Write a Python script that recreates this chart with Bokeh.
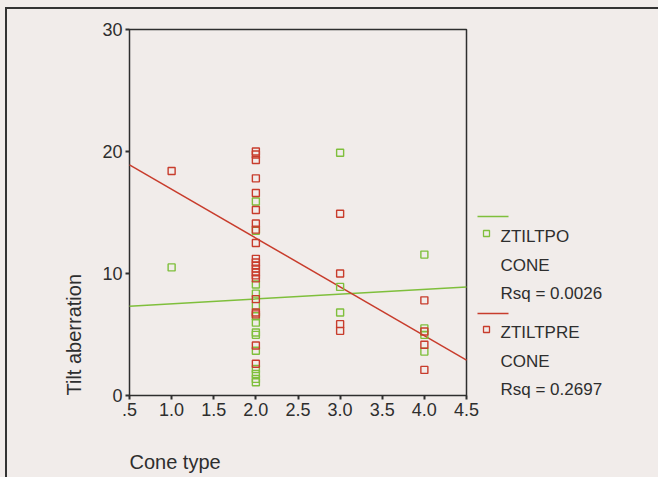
import numpy as np
from bokeh.plotting import figure
from bokeh.models import Range1d, FixedTicker, Title, Label, BoxAnnotation
from bokeh.embed import file_html
from bokeh.resources import INLINE

# ---- data ----
post_x = [1.0] + [2.0] * 14 + [3.0] * 3 + [4.0] * 4
post_y = [10.5,
          15.9, 13.5, 9.1, 8.35, 7.35, 6.5, 5.97, 5.16, 4.97, 3.67, 2.17, 1.77, 1.36, 1.08,
          19.9, 8.9, 6.8,
          11.55, 5.5, 4.97, 3.6]

pre_x = [1.0] + [2.0] * 21 + [3.0] * 4 + [4.0] * 4
pre_y = [18.4,
         20.0, 19.75, 19.3, 17.8, 16.6, 15.2, 14.1, 13.6, 12.5, 11.2, 10.9, 10.65, 10.4,
         10.1, 9.85, 9.6, 7.9, 6.8, 6.65, 4.1, 2.6,
         14.9, 10.0, 5.85, 5.3,
         7.8, 5.24, 4.16, 2.1]

# fitted lines (intercept, slope)
post_fit = (7.13, 0.39)
pre_fit = (20.9, -4.0)

legend_names = ["ZTILTPO", "ZTILTPRE"]
legend_var = "CONE"
legend_rsq = ["Rsq = 0.0026", "Rsq = 0.2697"]

x_lim = (0.5, 4.5)
y_lim = (0, 30)
x_ticks = [0.5, 1.0, 1.5, 2.0, 2.5, 3.0, 3.5, 4.0, 4.5]
x_tick_labels = [".5", "1.0", "1.5", "2.0", "2.5", "3.0", "3.5", "4.0", "4.5"]
y_ticks = [0, 10, 20, 30]

x_title = "Cone type"
y_title = "Tilt aberration"

# ---- styling / geometry ----
BG = "#f1ecea"
INK = "#2e2e2e"
GREEN = "#7fbf3c"
RED = "#c83c2c"
FONT = "Liberation Sans"

W, H = 658, 477
BOX_L, BOX_R, BOX_T, BOX_B = 129, 466, 29, 395   # plot box in pixels
PAD = 3                                           # frame padding around the box
px_x = (BOX_R - BOX_L) / (x_lim[1] - x_lim[0])
px_y = (BOX_B - BOX_T) / (y_lim[1] - y_lim[0])
frame_l, frame_t, frame_b = BOX_L - PAD, BOX_T - PAD, BOX_B + PAD
frame_w = W - frame_l
frame_h = frame_b - frame_t

p = figure(frame_width=frame_w, frame_height=frame_h, output_backend="svg",
           toolbar_location=None,
           x_range=Range1d(x_lim[0] - PAD / px_x, x_lim[0] + (frame_w - PAD) / px_x),
           y_range=Range1d(y_lim[0] - PAD / px_y, y_lim[1] + PAD / px_y),
           min_border_left=frame_l, min_border_right=0,
           min_border_top=frame_t, min_border_bottom=H - frame_b)
p.background_fill_color = None
p.border_fill_color = None
# paper colour plus the scanned figure's outer frame (top and left edges)
p.styles = {
    "background": ("linear-gradient(#333,#333) 5px 7px / 2px 100% no-repeat, "
                   "linear-gradient(#333,#333) 5px 7px / 100% 2px no-repeat, " + BG),
}
p.outline_line_color = None
p.grid.visible = False

for ax in (p.xaxis[0], p.yaxis[0]):
    ax.axis_line_color = None
    ax.major_tick_line_color = INK
    ax.major_tick_line_width = 2
    ax.major_tick_out = 1
    ax.major_tick_in = PAD
    ax.minor_tick_line_color = None
    ax.major_label_text_font = FONT
    ax.major_label_text_font_size = "18px"
    ax.major_label_text_color = INK
    ax.major_label_standoff = 3

p.xaxis[0].ticker = FixedTicker(ticks=x_ticks)
p.xaxis[0].major_label_overrides = dict(zip(x_ticks, x_tick_labels))
p.yaxis[0].ticker = FixedTicker(ticks=y_ticks)

# plot box
p.quad(left=[x_lim[0]], right=[x_lim[1]], bottom=[y_lim[0]], top=[y_lim[1]],
       fill_color=None, line_color=INK, line_width=1.5)

# regression lines
xs_line = np.array(x_lim)
p.line(xs_line, post_fit[0] + post_fit[1] * xs_line, line_color=GREEN, line_width=1.5)
p.line(xs_line, pre_fit[0] + pre_fit[1] * xs_line, line_color=RED, line_width=1.5)

# points
p.scatter(post_x, post_y, marker="square", size=7, fill_color=None,
          line_color=GREEN, line_width=1.4)
p.scatter(pre_x, pre_y, marker="square", size=7, fill_color=None,
          line_color=RED, line_width=1.4)

# axis titles
p.add_layout(Title(text=x_title, align="left", offset=PAD, text_font=FONT,
                   text_font_size="20px", text_font_style="normal", text_color=INK,
                   standoff=60), "below")
p.add_layout(Title(text=y_title, align="left", offset=PAD, text_font=FONT,
                   text_font_size="20px", text_font_style="normal", text_color=INK,
                   standoff=29), "left")

# legend (manual, screen units relative to the frame's bottom-left corner)
def sx(cx):
    return cx - frame_l

def sy(cy):
    return frame_b - cy

colors = [GREEN, RED]
line_cy = [216, 313]
sq_cy = [233, 329]
txt_cy = [236, 332]
row_gap = 28.5
for i in range(2):
    p.add_layout(BoxAnnotation(left=sx(477), right=sx(508),
                               top=sy(line_cy[i]) + 0.75, bottom=sy(line_cy[i]) - 0.75,
                               left_units="screen", right_units="screen",
                               top_units="screen", bottom_units="screen",
                               fill_color=colors[i], fill_alpha=1, line_alpha=0))
    p.add_layout(BoxAnnotation(left=sx(483), right=sx(489),
                               top=sy(sq_cy[i]) + 3, bottom=sy(sq_cy[i]) - 3,
                               left_units="screen", right_units="screen",
                               top_units="screen", bottom_units="screen",
                               fill_alpha=0, line_color=colors[i], line_alpha=1,
                               line_width=1.3))
    for j, t in enumerate([legend_names[i], legend_var, legend_rsq[i]]):
        p.add_layout(Label(x=sx(500), y=sy(txt_cy[i] + row_gap * j),
                           x_units="screen", y_units="screen",
                           text=t, text_font=FONT, text_font_size="17px",
                           text_color=INK, text_align="left", text_baseline="middle"))

open("out.html", "w").write(file_html(p, INLINE))
